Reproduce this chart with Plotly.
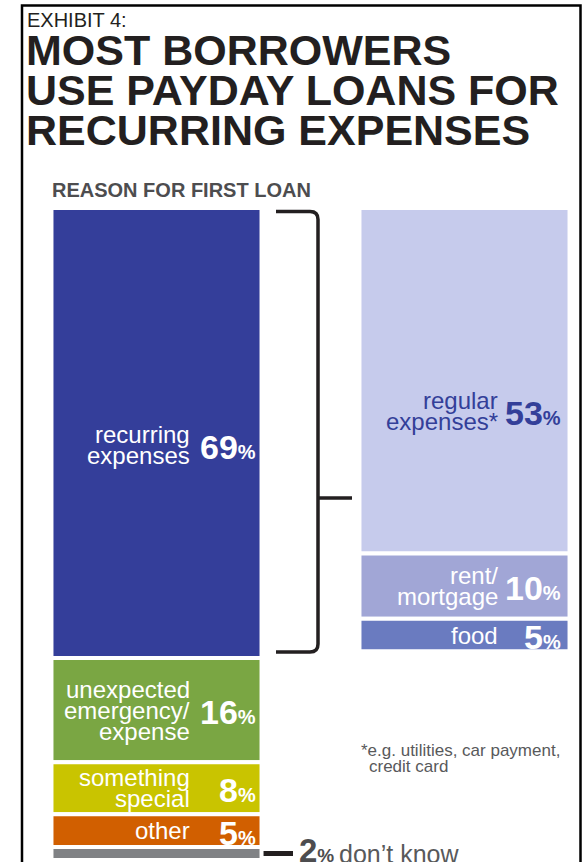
import plotly.graph_objects as go
import numpy as np

# ---- data -------------------------------------------------------------
columns = ["reason for first loan", "recurring expenses"]

reason_keys = ["recurring", "emergency", "special", "other", "dont_know"]
reason_values = [69, 16, 8, 5, 2]
reason_lines = [["recurring", "expenses"],
                ["unexpected", "emergency/", "expense"],
                ["something", "special"],
                ["other"],
                []]

recurring_keys = ["regular", "rent", "food"]
recurring_values = [53, 10, 5]
recurring_lines = [["regular", "expenses*"],
                   ["rent/", "mortgage"],
                   ["food"]]

# ---- styling ----------------------------------------------------------
W, H = 584, 862
TOP_PX = 208            # pixel row of 0 %
PX_PER_PCT = 6.52       # vertical scale
COL_CENTER_PX = [156.5, 464.5]
PX_PER_COL = COL_CENTER_PX[1] - COL_CENTER_PX[0]
BAR_WIDTH = 0.682
GAP = 4

colors = {
    "recurring": "#343e9a", "emergency": "#7aa643", "special": "#c9c400",
    "other": "#d15f00", "dont_know": "#808285",
    "regular": "#c6cbec", "rent": "#a1a6d6", "food": "#6a7bc0",
}
text_colors = {
    "recurring": "white", "emergency": "white", "special": "white",
    "other": "white", "regular": "#333f99", "rent": "white", "food": "white",
}
label_shift = {"recurring": 12, "regular": 30}   # extra drop of a label block (px)
number_inset = [4, 7]                            # gap between value and bar edge (px)

INK = "#231f20"
GREY = "#58595b"
SANS = "Liberation Sans, Arial, sans-serif"

x_lo = -COL_CENTER_PX[0] / PX_PER_COL
x_hi = (W - COL_CENTER_PX[0]) / PX_PER_COL
y_bottom = (H - TOP_PX) / PX_PER_PCT
y_top = -TOP_PX / PX_PER_PCT


def px_x(p):
    return (p - COL_CENTER_PX[0]) / PX_PER_COL


fig = go.Figure()


def add_column(col, keys, values):
    base = np.concatenate([[0], np.cumsum(values)[:-1]])
    fig.add_trace(go.Bar(
        x=[columns[col]] * len(values), y=values, base=base,
        width=BAR_WIDTH,
        marker=dict(color=[colors[k] for k in keys],
                    line=dict(color="white", width=GAP)),
        hoverinfo="skip", showlegend=False,
    ))
    return base


def add_labels(col, keys, values, lines, base):
    right_edge = col + BAR_WIDTH / 2
    for k, v, ln, b in zip(keys, values, lines, base):
        if not ln:
            continue
        centre = b + v / 2
        drop = label_shift.get(k, 0)
        n = len(ln)
        for i, t in enumerate(ln):
            fig.add_annotation(
                x=right_edge, y=centre, xref="x", yref="y",
                text=t, showarrow=False, xanchor="right", yanchor="middle",
                xshift=-70, yshift=-((i - (n - 1) / 2) * 21 + drop),
                font=dict(family=SANS, size=24, color=text_colors[k]),
            )
        fig.add_annotation(
            x=right_edge, y=centre, xref="x", yref="y",
            text=f"{v}<span style='font-size:20px'>%</span>",
            showarrow=False, xanchor="right", yanchor="middle",
            xshift=-number_inset[col], yshift=-(drop + 2),
            font=dict(family=SANS, size=34, color=text_colors[k], weight="bold"),
        )


b0 = add_column(0, reason_keys, reason_values)
b1 = add_column(1, recurring_keys, recurring_values)
add_labels(0, reason_keys, reason_values, reason_lines, b0)
add_labels(1, recurring_keys, recurring_values, recurring_lines, b1)

# bracket around the recurring-expenses block
rec_top = b0[0] + 0.55
rec_bot = b0[0] + reason_values[0] - 0.9
xv, xh, xt = px_x(318), px_x(276), px_x(352)
rx, ry = 8 / PX_PER_COL, 8 / PX_PER_PCT
y_mid = (498 - TOP_PX) / PX_PER_PCT
bracket = (f"M {xh},{rec_top} L {xv - rx},{rec_top} Q {xv},{rec_top} {xv},{rec_top + ry} "
           f"L {xv},{rec_bot - ry} Q {xv},{rec_bot} {xv - rx},{rec_bot} L {xh},{rec_bot} "
           f"M {xv},{y_mid} L {xt},{y_mid}")
fig.add_shape(type="path", path=bracket, xref="x", yref="y",
              line=dict(color=INK, width=3.5))

# leader for the small "don't know" slice
dk_centre = b0[-1] + reason_values[-1] / 2
fig.add_shape(type="line", xref="x", yref="y",
              x0=BAR_WIDTH / 2 + 2 / PX_PER_COL, x1=px_x(293),
              y0=dk_centre, y1=dk_centre, line=dict(color=INK, width=5))
fig.add_annotation(x=px_x(297), y=dk_centre, xref="x", yref="y",
                   text=f"{reason_values[-1]}<span style='font-size:19px'>%</span>",
                   showarrow=False, xanchor="left", yanchor="middle", yshift=3,
                   font=dict(family=SANS, size=33, color="#4d4d4f", weight="bold"))
fig.add_annotation(x=px_x(337), y=dk_centre, xref="x", yref="y",
                   text="don’t know", showarrow=False, xanchor="left",
                   yanchor="middle", yshift=-1,
                   font=dict(family=SANS, size=25, color=GREY))

# outer frame
fig.add_shape(type="rect", xref="paper", yref="paper",
              x0=22 / W, x1=580.5 / W, y0=-0.1, y1=1 - 5.5 / H,
              line=dict(color="black", width=2.5))


def paper_text(text, px, py, size, color, bold=False):
    fig.add_annotation(x=px / W, y=1 - py / H, xref="paper", yref="paper",
                       text=text, showarrow=False, xanchor="left", yanchor="middle",
                       font=dict(family=SANS, size=size, color=color,
                                 weight="bold" if bold else "normal"))


paper_text("EXHIBIT 4:", 25, 20, 20, INK)
for i, line in enumerate(["MOST BORROWERS", "USE PAYDAY LOANS FOR", "RECURRING EXPENSES"]):
    paper_text(line, 24, 50 + 40 * i, 43, INK, bold=True)
paper_text("REASON FOR FIRST LOAN", 50, 189.5, 20, "#4d4d4f", bold=True)
paper_text("*e.g. utilities, car payment,", 359, 750, 17, GREY)
paper_text("credit card", 367, 766, 17, GREY)

fig.update_layout(
    width=W, height=H, margin=dict(l=0, r=0, t=0, b=0),
    paper_bgcolor="white", plot_bgcolor="white",
    barmode="overlay", showlegend=False,
    xaxis=dict(visible=False, range=[x_lo, x_hi], type="category",
               categoryorder="array", categoryarray=columns),
    yaxis=dict(visible=False, range=[y_bottom, y_top]),
)

fig.write_html("out.html")
